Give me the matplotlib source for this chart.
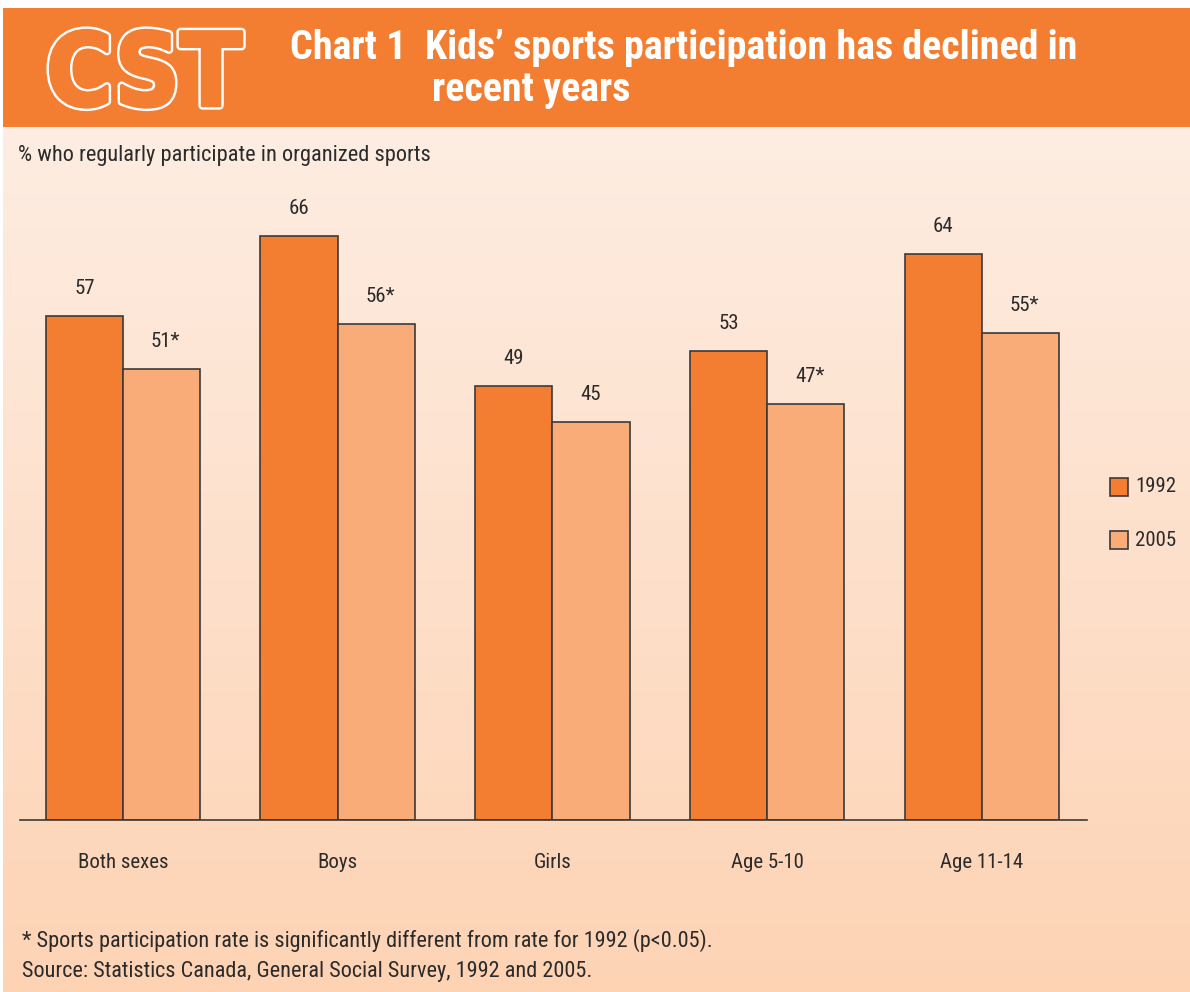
import numpy as np
import matplotlib
matplotlib.use('Agg')
import matplotlib.pyplot as plt
import matplotlib.patheffects as pe
from matplotlib.patches import Rectangle
from matplotlib.colors import LinearSegmentedColormap

# ── Data ──────────────────────────────────────────────────────────
categories = ['Both sexes', 'Boys', 'Girls', 'Age 5-10', 'Age 11-14']
years = ['1992', '2005']
rate_1992 = [57, 66, 49, 53, 64]
rate_2005 = [51, 56, 45, 47, 55]
signif_2005 = [True, True, False, True, True]

# ── Style ─────────────────────────────────────────────────────────
c_dark = '#F37E32'
c_light = '#F9AB78'
c_edge = '#3a3a3a'
c_text = '#2b2b2b'
FAM = ['Roboto Condensed', 'Liberation Sans Narrow', 'DejaVu Sans']
plt.rcParams['font.family'] = FAM
plt.rcParams['font.stretch'] = 'condensed'

W, H = 1190, 992
fig = plt.figure(figsize=(W / 100, H / 100), dpi=100)
fig.patch.set_facecolor('white')
renderer = fig.canvas.get_renderer()


def fit_width(t, target):
    # shrink/grow a text so its width matches the reference
    w = t.get_window_extent(renderer).width
    t.set_fontsize(t.get_fontsize() * target / w)


# ── Background, banner, texts in pixel coordinates ───────────────
bg = fig.add_axes([0, 0, 1, 1])
bg.set_xlim(0, W)
bg.set_ylim(H, 0)
bg.axis('off')

grad = LinearSegmentedColormap.from_list('peach', ['#FEEDE2', '#FDD3B4'])
bg.imshow(np.linspace(0, 1, 256).reshape(-1, 1), cmap=grad, aspect='auto',
          extent=[3, W, H, 127], zorder=0)
bg.add_patch(Rectangle((3, 8), W - 3, 119, facecolor=c_dark, edgecolor='none', zorder=1))

cst = bg.text(144, 67, 'CST', fontsize=64, fontweight='bold', color=c_dark,
              ha='center', va='center_baseline', family='DejaVu Sans', zorder=2,
              path_effects=[pe.Stroke(linewidth=6, foreground='white'),
                            pe.Stroke(linewidth=2.5, foreground=c_dark), pe.Normal()])
fit_width(cst, 196)
t1 = bg.text(290, 48, 'Chart 1  Kids\u2019 sports participation has declined in',
             fontsize=27, fontweight='bold', color='white', ha='left', va='center', zorder=2)
fit_width(t1, 790)
t2 = bg.text(432, 90, 'recent years', fontsize=t1.get_fontsize(), fontweight='bold',
             color='white', ha='left', va='center', zorder=2)

t3 = bg.text(18, 156, '% who regularly participate in organized sports', fontsize=14,
             color=c_text, ha='left', va='center')
fit_width(t3, 414)
t4 = bg.text(22, 941, '* Sports participation rate is significantly different from rate for 1992 (p<0.05).',
             fontsize=15, color=c_text, ha='left', va='center')
fit_width(t4, 692)
t5 = bg.text(22, 971, 'Source: Statistics Canada, General Social Survey, 1992 and 2005.',
             fontsize=t4.get_fontsize(), color=c_text, ha='left', va='center')

# legend
for yy, col, lab in [(487, c_dark, years[0]), (540, c_light, years[1])]:
    bg.add_patch(Rectangle((1110, yy - 9), 18, 18, facecolor=col, edgecolor=c_edge,
                           linewidth=1.2, zorder=2))
    bg.text(1135, yy, lab, fontsize=15, color=c_text, ha='left', va='center')

# ── Bars ──────────────────────────────────────────────────────────
ax = fig.add_axes([20 / W, (H - 820) / H, 1067 / W, 660 / H])
ax.set_facecolor('none')
x = np.arange(len(categories))
bw = 0.36
ax.bar(x - bw / 2, rate_1992, width=bw, color=c_dark, edgecolor=c_edge, linewidth=1.2)
ax.bar(x + bw / 2, rate_2005, width=bw, color=c_light, edgecolor=c_edge, linewidth=1.2)

for i in range(len(categories)):
    ax.annotate(f'{rate_1992[i]}', (x[i] - bw / 2, rate_1992[i]), textcoords='offset pixels',
                xytext=(0, 18), ha='center', va='bottom', fontsize=15, color=c_text)
    lab = f'{rate_2005[i]}*' if signif_2005[i] else f'{rate_2005[i]}'
    ax.annotate(lab, (x[i] + bw / 2, rate_2005[i]), textcoords='offset pixels',
                xytext=(4 if signif_2005[i] else 0, 18), ha='center', va='bottom',
                fontsize=15, color=c_text)

ax.set_xlim(-0.48, 4.49)
ax.set_ylim(0, 660 / 8.85)
ax.set_xticks(x)
ax.set_xticklabels(categories, fontsize=15, color=c_text)
ax.tick_params(axis='x', length=0, pad=24)
ax.set_yticks([])
for s in ['top', 'left', 'right']:
    ax.spines[s].set_visible(False)
ax.spines['bottom'].set_color(c_edge)
ax.spines['bottom'].set_linewidth(1.2)

plt.savefig('out.png', dpi=100)
